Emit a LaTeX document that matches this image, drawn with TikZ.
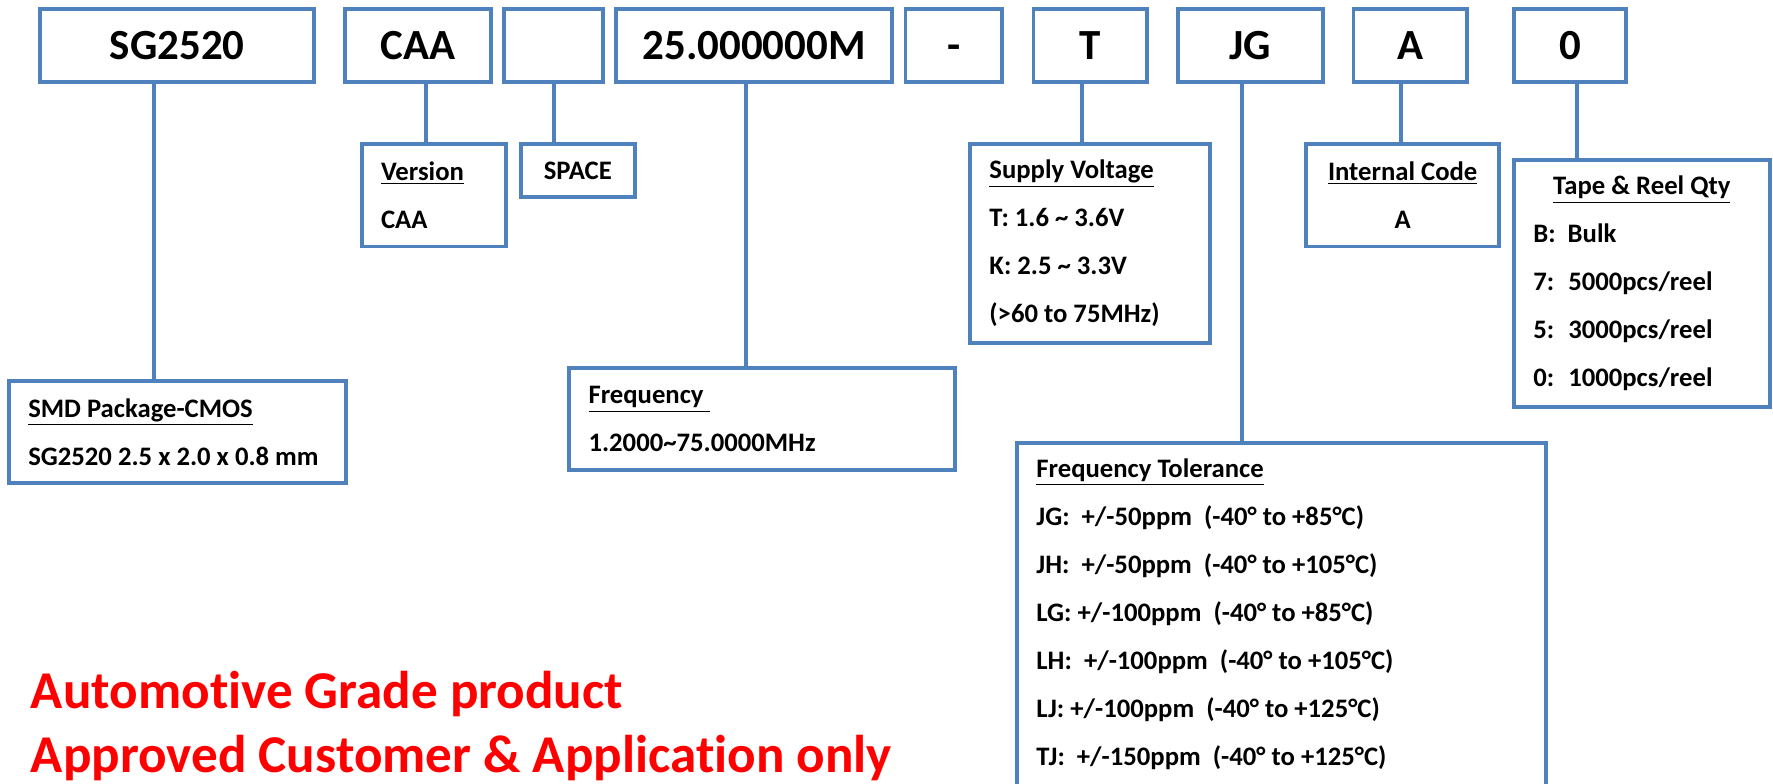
\documentclass[tikz,border=0pt]{standalone}
\usepackage{fontspec}
\setmainfont{Carlito}[Ligatures=NoCommon]
\definecolor{partblue}{RGB}{79,129,189}
\definecolor{notered}{RGB}{255,0,0}

\begin{document}
\begin{tikzpicture}[x=0.5pt,y=-0.5pt,
    field/.style={draw=partblue,line width=1.7pt,rectangle,minimum height=32pt,inner sep=0pt,text height=12.2pt,text depth=0pt,font=\fontsize{19}{22}\selectfont\bfseries},
    info/.style={draw=partblue,line width=1.7pt,rectangle,inner xsep=8.5pt,inner ysep=0pt,align=flush left,font=\fontsize{11.8}{21.25}\selectfont\bfseries},
    link/.style={draw=partblue,line width=1.7pt},
    note/.style={inner sep=0pt,anchor=base west,text=notered,font=\fontsize{23.5}{28}\selectfont\bfseries}]
    \useasboundingbox (0,0) rectangle (1568,692.5);

    % part number fields
    \node[field,minimum width=121.25pt] (sg) at (156.75,40.25) {SG2520};
    \node[field,minimum width=64.5pt] (caa) at (369.5,40.25) {CAA};
    \node[field,minimum width=43.5pt] (gap) at (489.5,40.25) {};
    \node[field,minimum width=122pt] (mhz) at (667,40.25) {25.000000M};
    \node[field,minimum width=42.65pt] (dash) at (843.4,40.25) {-};
    \node[field,minimum width=50pt] (volt) at (964,40.25) {T};
    \node[field,minimum width=64.25pt] (tol) at (1105.75,40.25) {JG};
    \node[field,minimum width=50pt] (code) at (1247,40.25) {A};
    \node[field,minimum width=49.5pt] (reel) at (1388.5,40.25) {0};

    % meaning of each field
    \node[info,minimum width=63.75pt,text width=46.75pt,minimum height=45.3pt] (ver) at (383.75,172.7)
        {\underline{Version}\\CAA};
    \node[info,minimum width=50.5pt,text width=33.5pt,minimum height=23.5pt,align=flush center] (spc) at (511,151)
        {SPACE};
    \node[info,minimum width=149pt,text width=132pt,minimum height=45.35pt] (smd) at (157,382)
        {\underline{SMD Package-CMOS}\\SG2520 2.5 x 2.0 x 0.8 mm};
    \node[info,minimum width=170.5pt,text width=153.5pt,minimum height=44.9pt] (frq) at (674,370.7)
        {\underline{Frequency\ }\\1.2000\textasciitilde75.0000MHz};
    \node[info,minimum width=106pt,text width=89pt,minimum height=88.3pt] (sup) at (964,215.3)
        {\underline{Supply Voltage}\\T: 1.6 \textasciitilde\ 3.6V\\K: 2.5 \textasciitilde\ 3.3V\\(>60 to 75MHz)};
    \node[info,minimum width=234pt,text width=217pt,minimum height=151.55pt] (ftol) at (1133.6,543.05)
        {\underline{Frequency Tolerance}\\
         JG:~ +/-50ppm~ (-40° to +85°C)\\
         JH:~ +/-50ppm~ (-40° to +105°C)\\
         LG: +/-100ppm~ (-40° to +85°C)\\
         LH:~ +/-100ppm~ (-40° to +105°C)\\
         LJ: +/-100ppm~ (-40° to +125°C)\\
         TJ:~ +/-150ppm~ (-40° to +125°C)};
    \node[info,minimum width=85.5pt,text width=68.5pt,minimum height=45.5pt,align=flush center] (intc) at (1240.5,172.5)
        {\underline{Internal Code}\\A};
    \node[info,minimum width=113pt,text width=96pt,minimum height=109.25pt] (tape) at (1452,250.75)
        {\makebox[\linewidth][c]{\underline{Tape \& Reel Qty}}\\
         B:~ Bulk\\7:~ 5000pcs/reel\\5:~ 3000pcs/reel\\0:~ 1000pcs/reel};

    % connectors
    \foreach \a/\b/\dx in {sg/smd/-10.375,caa/ver/3.65,gap/spc/0.25,mhz/frq/-3.6,
                           volt/sup/-3.5,tol/ftol/-3.7,code/intc/-4,reel/tape/3.25}{
        \path ([xshift=\dx pt]\a.south) coordinate (\a-foot);
        \draw[link] (\a-foot) -- (\a-foot |- \b.north);
    }

    % remark
    \node[note] (auto) at (27,627) {Automotive Grade product};
    \node[note] (appr) at (27,683) {Approved Customer \& Application only};
\end{tikzpicture}
\end{document}
